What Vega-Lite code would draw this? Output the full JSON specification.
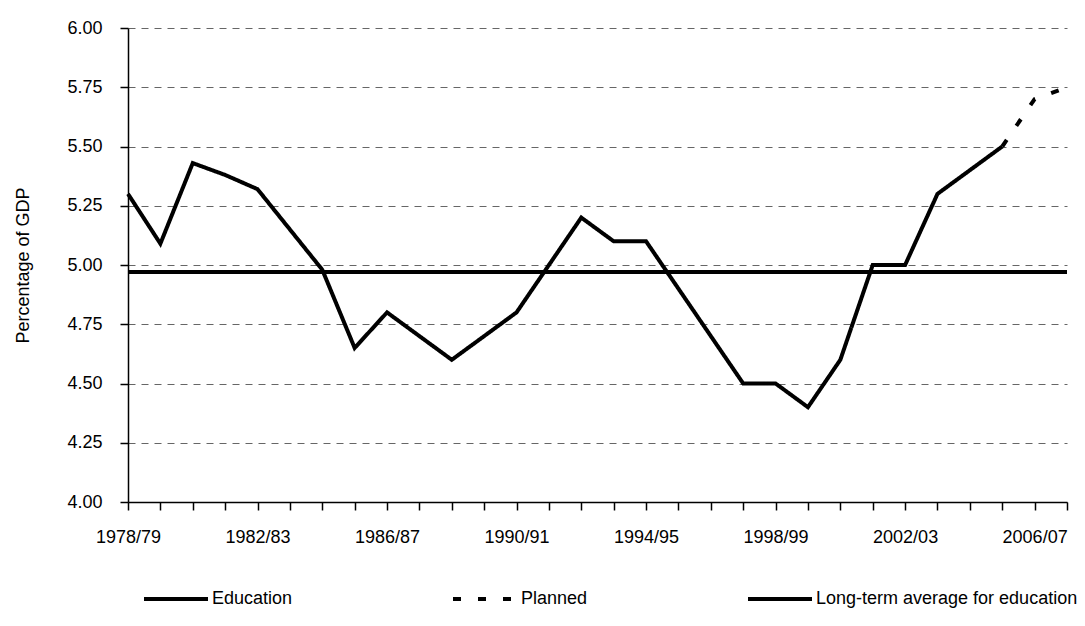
{
  "$schema": "https://vega.github.io/schema/vega-lite/v6.json",
  "width": 939,
  "height": 474,
  "autosize": "none",
  "padding": {"left": 128, "top": 28, "right": 18, "bottom": 124},
  "background": "white",
  "config": {
    "view": {"stroke": null},
    "font": "Liberation Sans",
    "axis": {"labelFont": "Liberation Sans", "titleFont": "Liberation Sans", "labelColor": "black", "titleColor": "black"}
  },
  "datasets": {
    "series": [
      {"year": "1978/79", "value": 5.30, "series": "Education"},
      {"year": "1979/80", "value": 5.09, "series": "Education"},
      {"year": "1980/81", "value": 5.43, "series": "Education"},
      {"year": "1981/82", "value": 5.38, "series": "Education"},
      {"year": "1982/83", "value": 5.32, "series": "Education"},
      {"year": "1983/84", "value": 5.15, "series": "Education"},
      {"year": "1984/85", "value": 4.98, "series": "Education"},
      {"year": "1985/86", "value": 4.65, "series": "Education"},
      {"year": "1986/87", "value": 4.80, "series": "Education"},
      {"year": "1987/88", "value": 4.70, "series": "Education"},
      {"year": "1988/89", "value": 4.60, "series": "Education"},
      {"year": "1989/90", "value": 4.70, "series": "Education"},
      {"year": "1990/91", "value": 4.80, "series": "Education"},
      {"year": "1991/92", "value": 5.00, "series": "Education"},
      {"year": "1992/93", "value": 5.20, "series": "Education"},
      {"year": "1993/94", "value": 5.10, "series": "Education"},
      {"year": "1994/95", "value": 5.10, "series": "Education"},
      {"year": "1995/96", "value": 4.90, "series": "Education"},
      {"year": "1996/97", "value": 4.70, "series": "Education"},
      {"year": "1997/98", "value": 4.50, "series": "Education"},
      {"year": "1998/99", "value": 4.50, "series": "Education"},
      {"year": "1999/00", "value": 4.40, "series": "Education"},
      {"year": "2000/01", "value": 4.60, "series": "Education"},
      {"year": "2001/02", "value": 5.00, "series": "Education"},
      {"year": "2002/03", "value": 5.00, "series": "Education"},
      {"year": "2003/04", "value": 5.30, "series": "Education"},
      {"year": "2004/05", "value": 5.40, "series": "Education"},
      {"year": "2005/06", "value": 5.50, "series": "Education"},
      {"year": "2005/06", "value": 5.50, "series": "Planned"},
      {"year": "2006/07", "value": 5.70, "series": "Planned"},
      {"year": "2007/08", "value": 5.75, "series": "Planned"}
    ],
    "average": [
      {"value": 4.97, "series": "Long-term average for education"}
    ]
  },
  "layer": [
    {
      "data": {"name": "series"},
      "mark": {"type": "line", "color": "black", "strokeWidth": 4, "strokeJoin": "miter", "strokeCap": "butt"},
      "encoding": {
        "x": {
          "field": "year",
          "type": "ordinal",
          "scale": {
            "type": "point",
            "padding": 0,
            "domain": ["1978/79","1979/80","1980/81","1981/82","1982/83","1983/84","1984/85","1985/86","1986/87","1987/88","1988/89","1989/90","1990/91","1991/92","1992/93","1993/94","1994/95","1995/96","1996/97","1997/98","1998/99","1999/00","2000/01","2001/02","2002/03","2003/04","2004/05","2005/06","2006/07","2007/08"]
          },
          "axis": {
            "title": null,
            "labelAngle": 0,
            "labelFontSize": 18,
            "labelPadding": 18,
            "labelOverlap": false,
            "labelExpr": "indexof(['1978/79','1982/83','1986/87','1990/91','1994/95','1998/99','2002/03','2006/07'], datum.value) >= 0 ? datum.label : ''",
            "tickSize": 8,
            "tickColor": "black",
            "tickWidth": 1.5,
            "domainColor": "black",
            "domainWidth": 1.5,
            "grid": false
          }
        },
        "y": {
          "field": "value",
          "type": "quantitative",
          "scale": {"domain": [4, 6], "nice": false, "zero": false},
          "axis": {
            "title": "Percentage of GDP",
            "titleFontSize": 18,
            "titleFontWeight": "normal",
            "titlePadding": 34,
            "values": [4, 4.25, 4.5, 4.75, 5, 5.25, 5.5, 5.75, 6],
            "format": ".2f",
            "labelFontSize": 18,
            "labelPadding": 18,
            "tickSize": 8,
            "tickColor": "black",
            "tickWidth": 1.5,
            "domainColor": "black",
            "domainWidth": 1.5,
            "grid": true,
            "gridColor": "#666666",
            "gridWidth": 1,
            "gridDash": [7, 6]
          }
        },
        "strokeDash": {
          "field": "series",
          "type": "nominal",
          "scale": {
            "domain": ["Education", "Planned", "Long-term average for education"],
            "range": [[1, 0], [8, 17], [1, 0]]
          },
          "legend": {
            "title": null,
            "orient": "none",
            "direction": "horizontal",
            "legendX": 14,
            "legendY": 537,
            "padding": 0,
            "columnPadding": 152,
            "labelFont": "Liberation Sans",
            "labelFontSize": 18,
            "labelColor": "black",
            "labelOffset": 2,
            "labelLimit": 0,
            "symbolType": "stroke",
            "symbolSize": 4096,
            "symbolStrokeWidth": 4,
            "symbolStrokeColor": "black"
          }
        }
      }
    },
    {
      "data": {"name": "average"},
      "mark": {"type": "rule", "color": "black", "strokeWidth": 4},
      "encoding": {
        "y": {"field": "value", "type": "quantitative"},
        "strokeDash": {"field": "series", "type": "nominal"}
      }
    }
  ]
}
